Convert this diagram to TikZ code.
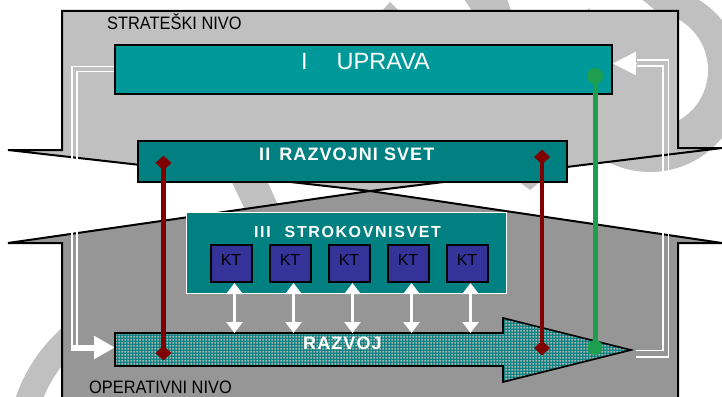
\documentclass[tikz,border=0pt]{standalone}
\usepackage{fontspec}
\setmainfont{Liberation Sans}
\newfontfamily\nivofont{Liberation Sans}[FakeStretch=0.91]
\newfontfamily\svetfont{Liberation Sans}[LetterSpace=6]
\newfontfamily\strokfont{Liberation Sans}[LetterSpace=10]
\usepackage{tikz}
\usetikzlibrary{positioning,arrows.meta,patterns.meta,shapes.geometric}
\definecolor{UpravaTeal}{HTML}{009999}
\definecolor{SvetTeal}{HTML}{008080}
\definecolor{KtBlue}{HTML}{333399}
\definecolor{StratGray}{HTML}{C0C0C0}
\definecolor{OperGray}{HTML}{969696}
\definecolor{MarkGray}{HTML}{C0C0C0}
\definecolor{DotGray}{HTML}{B4B4B4}
\definecolor{LinkRed}{HTML}{800000}
\definecolor{LinkGreen}{HTML}{1E9E4F}

\tikzdeclarepattern{
  name=razvojdots,
  type=uncolored,
  bottom left={(0pt,0pt)},
  top right={(3.4pt,3.4pt)},
  tile size={(3.4pt,3.4pt)},
  code={\pgfpathrectangle{\pgfpoint{0.5pt}{0.5pt}}{\pgfpoint{1.9pt}{1.9pt}}\pgfusepath{fill}}
}

\begin{document}
\begin{tikzpicture}[x=1pt,y=-1pt,
    outline/.style={draw=black, line width=1.6pt},
    levelbox/.style={outline, inner sep=0pt},
    ktbox/.style={draw=black, line width=2pt, fill=KtBlue, minimum width=41pt,
      minimum height=37pt, inner sep=0pt, text height=11.5pt, text depth=7pt,
      font=\fontsize{16}{18}\selectfont},
    nivolabel/.style={anchor=base west, inner sep=0pt, font=\nivofont\fontsize{18}{20}\selectfont},
    svetlabel/.style={anchor=base west, inner sep=0pt, text=white},
    whitelink/.style={draw=white, line width=1.8pt},
    ktlink/.style={draw=white, line width=3pt,
      arrows={Triangle[width=16pt,length=11pt]-Triangle[width=16pt,length=11pt]}},
    redend/.style={diamond, fill=LinkRed, minimum width=16pt, minimum height=15pt, inner sep=0pt},
    greenend/.style={circle, fill=LinkGreen, minimum size=16pt, inner sep=0pt},
    redlink/.style={draw=LinkRed, line width=4.5pt},
    greenlink/.style={draw=LinkGreen, line width=5pt}]

  \useasboundingbox (0,0) rectangle (722,396);
  \clip (0,0) rectangle (722,396);
  \fill[white] (0,0) rectangle (722,396);

  % watermark
  \fill[MarkGray] (650,79) circle (93);
  \fill[white] (650,70) circle (58);
  \fill[white] (590,-2) -- (640,-2) -- (657,12) -- (590,12) -- cycle;
  \draw[MarkGray, line width=26pt] (170,450) ++(185:150) arc[start angle=185, end angle=250, radius=150];
  \fill[MarkGray] (227,172) -- (263,172) -- (284,218) -- (249,218) -- cycle;
  \fill[MarkGray] (380,13) -- (390,2) -- (401,13) -- cycle;
  \fill[MarkGray] (464,-1) -- (507,-1) -- (512,14) -- (474,14) -- cycle;
  \fill[MarkGray] (518,181) -- (541,181) -- (530,190) -- cycle;

  % levels
  \filldraw[fill=StratGray, outline, line width=2pt, line join=miter]
    (8,150) -- (62,150) -- (62,11) -- (678,11) -- (678,148) -- (722,148) -- (370,191) -- cycle;
  \filldraw[fill=OperGray, outline, line width=2pt, line join=miter]
    (8,243) -- (370,191) -- (722,243) -- (678,243) -- (678,400) -- (62,400) -- (62,243) -- cycle;

  \node[nivolabel] (strateski) at (107,30) {STRATEŠKI NIVO};
  \node[nivolabel] (operativni) at (89,393.5) {OPERATIVNI NIVO};

  \coordinate (raztop) at (0,333);
  \coordinate (raztail) at (115,347.5);
  \coordinate (raztip) at (636,353.5);

  \node[levelbox, fill=UpravaTeal, minimum width=497pt, minimum height=49pt] (uprava) at (363.5,69.5) {};
  \node[levelbox, fill=SvetTeal, minimum width=429pt, minimum height=41pt] (razvojnisvet) at (352.5,161.5) {};

  % loops
  \draw[whitelink] ([yshift=3pt]uprava.west) -| (72,350);
  \draw[whitelink] ([yshift=-2pt]uprava.west) -| (77,346);
  \draw[white, line width=6pt, -{Triangle[width=22pt,length=21pt]}] (71.1,347.5) -- (raztail);
  \draw[whitelink] ([yshift=-3.5pt]raztip) -| (668.5,60) -- (637,60);
  \draw[whitelink] ([yshift=3pt]raztip) -| (663,66) -- (637,66);
  \draw[whitelink, -{Triangle[width=23pt,length=23pt]}] (637,63.5) -- ([yshift=6pt]uprava.east);

  \node[svetlabel, font=\fontsize{23.5}{26}\selectfont] (upravalabel) at (301,70) {I\hspace{29pt}UPRAVA};
  \node[svetlabel, font=\svetfont\fontsize{18}{20}\selectfont\bfseries] (razvojnilabel) at (259,160) {II\hspace{3pt} RAZVOJNI SVET};

  \node[draw=white, line width=1pt, fill=SvetTeal, minimum width=320pt, minimum height=81pt,
        inner sep=0pt] (strokovnisvet) at (346,252.5) {};
  \node[svetlabel, font=\strokfont\fontsize{16}{18}\selectfont\bfseries] (strokovnilabel) at (254,237) {III\hspace{14pt}STROKOVNISVET};

  \foreach \i in {1,...,5}
    \node[ktbox] (kt\i) at ({231+59*(\i-1)},263.5) {KT};

  \path[fill=SvetTeal, postaction={pattern=razvojdots, pattern color=DotGray},
        postaction={draw=black, line width=1.6pt}]
    (115,333) -- (503,333) -- (503,318) -- (631,350) -- (503,382) -- (503,366) -- (115,366) -- cycle;
  \node[svetlabel, font=\svetfont\fontsize{18}{20}\selectfont\bfseries] (razvoj) at (303,349) {RAZVOJ};

  \foreach \i in {1,...,5}
    \draw[ktlink] ([xshift=3.5pt]kt\i.south) -- ([xshift=3.5pt]kt\i.south |- raztop);

  \node[redend] (redlefttop) at (163.5,163) {};
  \node[redend] (redleftbot) at (163.5,353) {};
  \node[redend] (redrighttop) at (542,157) {};
  \node[redend] (redrightbot) at (542,348) {};
  \node[greenend] (greentop) at (595,76) {};
  \node[greenend, minimum size=15pt] (greenbot) at (595,347.5) {};
  \draw[redlink] (redlefttop.center) -- (redleftbot.center);
  \draw[redlink] (redrighttop.center) -- (redrightbot.center);
  \draw[greenlink] (greentop.center) -- (greenbot.center);
\end{tikzpicture}
\end{document}
